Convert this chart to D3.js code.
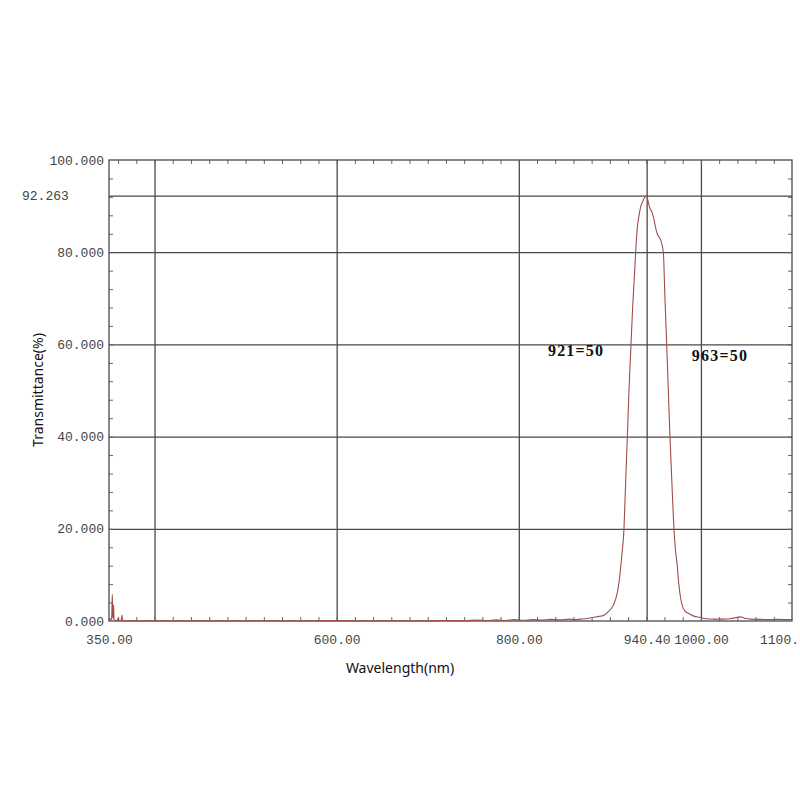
<!DOCTYPE html>
<html><head><meta charset="utf-8">
<script src="https://cdn.jsdelivr.net/npm/d3@7/dist/d3.min.js"></script>
<style>body{margin:0;background:#fff}svg{display:block}</style>
</head><body>
<svg id="chart" width="800" height="800"></svg>
<script>
// ---- data ----
const wavelength = [350,351,352,353,353.6,354.2,355,355.6,357,359,360,361,363.5,364.2,365,370,390,420,450,480,520,560,600,640,680,700,720,740,755,765,775,785,795,805,815,825,835,845,855,862,867,875,882,888,893,898,904,908,910.4,913,915.5,917.3,919.2,921,923.2,925,927,928.3,930,932,934,936,938,940.4,942,944,946,948,950,952,954,956,958.7,960.5,962.4,964,966,968,970.4,972,974,975.7,977.5,979.4,982,985,988.5,993,999,1005,1015,1025,1032,1038,1043,1048,1055,1065,1075,1085,1092,1100];
const transmittance = [0.1,0.5,0.2,1.0,5.8,0.5,3.5,0.3,0.1,0.1,0.6,0.1,0.2,1.3,0.1,0.05,0.05,0.04,0.05,0.04,0.06,0.05,0.08,0.05,0.06,0.05,0.1,0.08,0.2,0.1,0.25,0.1,0.3,0.15,0.3,0.2,0.35,0.25,0.4,0.3,0.4,0.55,0.8,1.0,1.2,2.0,3.5,6.0,8.9,14,20,30,40,50,60,68,75,80,85,88,90,91,91.8,92.263,91,89.5,88.8,87.5,85.5,84,83.3,82.5,80,70,60,51,40,30.5,20,15.5,12,8,5.2,3.4,2.3,1.8,1.4,1.0,0.8,0.5,0.4,0.4,0.5,0.7,0.9,0.6,0.4,0.35,0.3,0.35,0.3,0.3];
const xGridValues = [400,600,800,940.4,1000];
const xTickLabels = ["350.00","600.00","800.00","940.40","1000.00","1100."];
const xTickLabelValues = [350,600,800,940.4,1000,1100];
const yGridValues = [20,40,60,80,92.263];
const yTickLabelValues = [0,20,40,60,80,100];
const yTickLabels = ["0.000","20.000","40.000","60.000","80.000","100.000"];
const peakLabel = "92.263";
const annotations = [{text:"921=50", wl:832, t:57.5},{text:"963=50", wl:990, t:56.3}];

// ---- layout ----
const svg = d3.select("#chart");
const L=109, R=792, T=160, B=621;
const x = d3.scaleLinear().domain([350,1100]).range([L,R]);
const y = d3.scaleLinear().domain([0,100]).range([B,T]);
const gridColor = "#4a4a4a";
const monoFont = "'Liberation Mono', 'DejaVu Sans Mono', monospace";

// gridlines
const gx = svg.append("g").attr("transform",`translate(0,${B})`)
  .call(d3.axisBottom(x).tickValues(xGridValues).tickSize(-(B-T)).tickFormat(""));
const gy = svg.append("g").attr("transform",`translate(${L},0)`)
  .call(d3.axisLeft(y).tickValues(yGridValues).tickSize(-(R-L)).tickFormat(""));
[gx,gy].forEach(g=>{g.select(".domain").remove();g.selectAll("line").attr("stroke",gridColor).attr("stroke-width",1.3);});

// minor ticks (inward)
const minorX = d3.range(360,1100,20);
const minorY = d3.range(4,100,4);
const tickStyle = g=>{g.select(".domain").remove();g.selectAll("line").attr("stroke","#666").attr("stroke-width",1);};
svg.append("g").attr("transform",`translate(0,${B})`).call(d3.axisBottom(x).tickValues(minorX).tickSize(-4).tickFormat("")).call(tickStyle);
svg.append("g").attr("transform",`translate(0,${T})`).call(d3.axisTop(x).tickValues(minorX).tickSize(-4).tickFormat("")).call(tickStyle);
svg.append("g").attr("transform",`translate(${L},0)`).call(d3.axisLeft(y).tickValues(minorY).tickSize(-4).tickFormat("")).call(tickStyle);
svg.append("g").attr("transform",`translate(${R},0)`).call(d3.axisRight(y).tickValues(minorY).tickSize(-4).tickFormat("")).call(tickStyle);

// frame
svg.append("rect").attr("x",L).attr("y",T).attr("width",R-L).attr("height",B-T)
  .attr("fill","none").attr("stroke",gridColor).attr("stroke-width",1.3);

// tick labels
const xl = svg.append("g").attr("transform",`translate(0,${B})`)
  .call(d3.axisBottom(x).tickValues(xTickLabelValues).tickSize(0).tickPadding(14)
    .tickFormat((d,i)=>xTickLabels[i]));
xl.select(".domain").remove();
xl.selectAll("text").attr("font-family",monoFont).attr("font-size",13).attr("fill","#444")
  .attr("dx",d=>d===1100?-13:0);
const yl = svg.append("g").attr("transform",`translate(${L},0)`)
  .call(d3.axisLeft(y).tickValues(yTickLabelValues).tickSize(0).tickPadding(5)
    .tickFormat((d,i)=>yTickLabels[i]));
yl.select(".domain").remove();
yl.selectAll("text").attr("font-family",monoFont).attr("font-size",13).attr("fill","#444");
svg.append("text").attr("x",22).attr("y",y(92.263)).attr("dy","0.35em")
  .attr("font-family",monoFont).attr("font-size",13).attr("fill","#444").text(peakLabel);

// curve
const line = d3.line().x((d,i)=>x(wavelength[i])).y(d=>y(d)).curve(d3.curveMonotoneX);
svg.append("path").datum(transmittance).attr("d",line)
  .attr("fill","none").attr("stroke","#a04c4c").attr("stroke-width",1.1);

// annotations
annotations.forEach(a=>{
  svg.append("text").attr("x",x(a.wl)).attr("y",y(a.t))
    .attr("font-family","'Liberation Serif','DejaVu Serif',serif").attr("font-weight","bold")
    .attr("font-size",16).attr("letter-spacing",1.2).attr("fill","#111").text(a.text);
});

// axis titles
svg.append("text").attr("x",400).attr("y",673).attr("text-anchor","middle")
  .attr("font-family","'Noto Sans',sans-serif").attr("font-size",14).attr("fill","#111").text("Wavelength(nm)");
svg.append("text").attr("transform","translate(43,390) rotate(-90)").attr("text-anchor","middle")
  .attr("font-family","'Noto Sans',sans-serif").attr("font-size",14).attr("fill","#111").text("Transmittance(%)");
</script>
</body></html>
